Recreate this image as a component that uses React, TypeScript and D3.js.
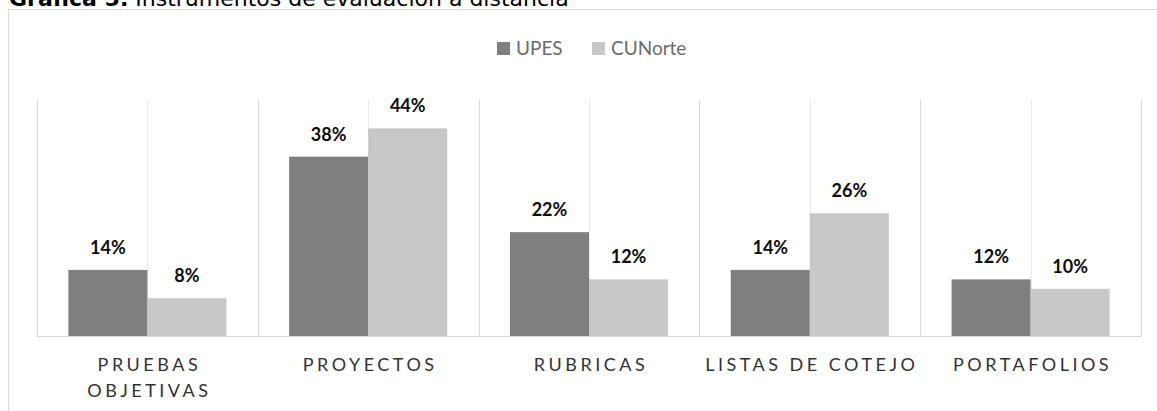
import React from "react";
import * as d3 from "d3";

const categories = ["PRUEBAS OBJETIVAS", "PROYECTOS", "RUBRICAS", "LISTAS DE COTEJO", "PORTAFOLIOS"];
const tickLines = [["PRUEBAS", "OBJETIVAS"], ["PROYECTOS"], ["RUBRICAS"], ["LISTAS DE COTEJO"], ["PORTAFOLIOS"]];
const seriesNames = ["UPES", "CUNorte"];
const upes = [14, 38, 22, 14, 12];
const cunorte = [8, 44, 12, 26, 10];
const colors = ["#7f7f7f", "#c8c8c8"];

const W = 1157;
const H = 411;
const plot = { left: 37, right: 1141, top: 100, bottom: 336 };

export default function App() {
  const x0 = d3.scaleBand<string>().domain(categories).range([plot.left, plot.right]).padding(0);
  const bw = x0.bandwidth();
  const gw = bw * 0.716;
  const x1 = d3.scaleBand<string>().domain(seriesNames).range([(bw - gw) / 2, (bw + gw) / 2]).padding(0);
  const y = d3.scaleLinear().domain([0, 50]).range([plot.bottom, plot.top]);
  const data = [upes, cunorte];

  const boundaries = categories.map((c) => x0(c)!).concat([plot.right]);
  const centers = categories.map((c) => x0(c)! + bw / 2);

  return (
    <svg width={W} height={H} style={{ position: "absolute", left: 0, top: 0, background: "#fff" }}>
      <text x={9} y={6} fontFamily="DejaVu Sans" fontSize={22} fill="#000">
        <tspan fontWeight="bold">Gráfica 5.</tspan>
        <tspan> Instrumentos de evaluación a distancia</tspan>
      </text>
      <rect x={8.5} y={9.5} width={1170} height={420} fill="#fff" stroke="#d9d9d9" strokeWidth={1} />

      {centers.map((cx, i) => (
        <line key={"c" + i} x1={Math.round(cx) + 0.5} x2={Math.round(cx) + 0.5} y1={plot.top} y2={plot.bottom} stroke="#e9e9e9" />
      ))}
      {boundaries.map((bx, i) => (
        <line key={"b" + i} x1={Math.round(bx) + 0.5} x2={Math.round(bx) + 0.5} y1={plot.top} y2={plot.bottom} stroke="#d9d9d9" />
      ))}

      {categories.map((c, ci) => (
        <g key={c}>
          {seriesNames.map((s, si) => {
            const v = data[si][ci];
            const bx = x0(c)! + x1(s)!;
            return (
              <g key={s}>
                <rect x={bx} y={y(v)} width={x1.bandwidth()} height={plot.bottom - y(v)} fill={colors[si]} />
                <text x={bx + x1.bandwidth() / 2} y={y(v) - 16} textAnchor="middle" fontFamily="Lato" fontWeight="bold" fontSize={18} fill="#0d0d0d">
                  {v}%
                </text>
              </g>
            );
          })}
        </g>
      ))}

      <line x1={plot.left} x2={plot.right + 1} y1={plot.bottom + 0.5} y2={plot.bottom + 0.5} stroke="#d9d9d9" />

      {categories.map((c, ci) => (
        <g key={"t" + c}>
          {tickLines[ci].map((ln, li) => (
            <text key={li} x={x0(c)! + bw / 2 + 2} y={371 + li * 26} textAnchor="middle" fontFamily="Lato" fontSize={18} letterSpacing={3.5} fill="#333333">
              {ln}
            </text>
          ))}
        </g>
      ))}

      {seriesNames.map((s, si) => {
        const lx = [497, 592][si];
        return (
          <g key={"l" + s}>
            <rect x={lx} y={42} width={13} height={13} fill={colors[si]} />
            <text x={lx + 19} y={55} fontFamily="Lato" fontSize={19} fill="#6b6b6b">
              {s}
            </text>
          </g>
        );
      })}
    </svg>
  );
}
